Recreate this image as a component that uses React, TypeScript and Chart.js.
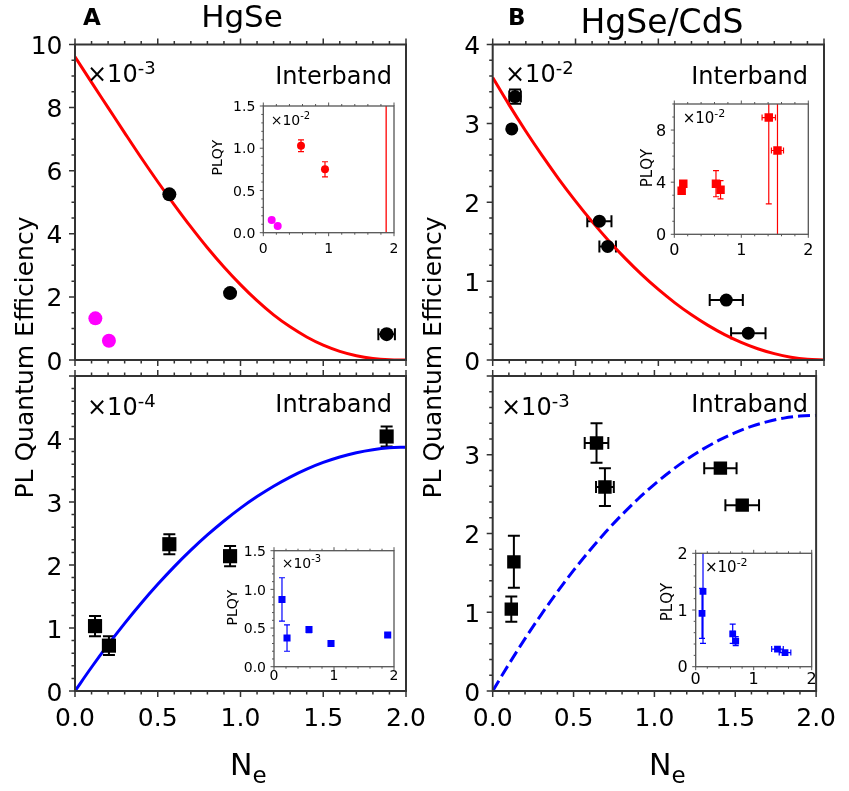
import React, { useEffect, useRef } from 'react';
import { Chart, registerables } from 'chart.js';

Chart.register(...registerables);

const W = 849;
const H = 791;
const FONT = "'DejaVu Sans', 'Liberation Sans', sans-serif";
Chart.defaults.font.family = FONT;
Chart.defaults.color = '#000';

// ---------- model curves ----------
const NE_GRID = [0, 0.1, 0.2, 0.3, 0.4, 0.5, 0.6, 0.7, 0.8, 0.9, 1.0, 1.1, 1.2, 1.3, 1.4, 1.5, 1.6, 1.7, 1.8, 1.9, 2.0];
const A_INTER_FIT = [9.61, 8.80, 8.00, 7.20, 6.41, 5.65, 4.92, 4.22, 3.56, 2.95, 2.39, 1.88, 1.43, 1.05, 0.73, 0.47, 0.275, 0.137, 0.051, 0.01, 0];
const A_INTRA_FIT = [0, 0.377, 0.735, 1.074, 1.393, 1.693, 1.974, 2.235, 2.477, 2.699, 2.903, 3.086, 3.251, 3.396, 3.522, 3.628, 3.715, 3.783, 3.831, 3.86, 3.87];
const B_INTER_FIT = [3.58, 3.231, 2.90, 2.587, 2.291, 2.014, 1.754, 1.513, 1.289, 1.083, 0.895, 0.725, 0.573, 0.439, 0.322, 0.224, 0.143, 0.081, 0.036, 0.009, 0];
const B_INTRA_FIT = [0, 0.341, 0.665, 0.971, 1.26, 1.531, 1.785, 2.021, 2.24, 2.441, 2.625, 2.791, 2.94, 3.071, 3.185, 3.281, 3.36, 3.421, 3.465, 3.491, 3.5];

// ---------- HgSe interband (x1e-3) ----------
const A_INTER_NE = [0.57, 0.937, 1.883];
const A_INTER_QE = [5.25, 2.12, 0.82];
const A_INTER_NE_ERR = [0, 0, 0.05];
const A_INTER_QE_ERR = [0, 0, 0];
const A_INTER_MAG_NE = [0.123, 0.205];
const A_INTER_MAG_QE = [1.32, 0.61];

// ---------- HgSe intraband (x1e-4) ----------
const A_INTRA_NE = [0.121, 0.205, 0.57, 0.937, 1.883];
const A_INTRA_QE = [1.03, 0.72, 2.33, 2.14, 4.04];
const A_INTRA_NE_ERR = [0, 0, 0, 0, 0];
const A_INTRA_QE_ERR = [0.16, 0.15, 0.16, 0.16, 0.16];

// ---------- HgSe/CdS interband (x1e-2) ----------
const B_INTER_NE = [0.135, 0.115, 0.644, 0.694, 1.41, 1.543];
const B_INTER_QE = [3.34, 2.93, 1.76, 1.44, 0.76, 0.34];
const B_INTER_NE_ERR = [0.035, 0, 0.073, 0.05, 0.10, 0.104];
const B_INTER_QE_ERR = [0.09, 0, 0, 0, 0, 0];

// ---------- HgSe/CdS intraband (x1e-3) ----------
const B_INTRA_NE = [0.115, 0.131, 0.642, 0.694, 1.408, 1.543];
const B_INTRA_QE = [1.04, 1.64, 3.15, 2.59, 2.83, 2.36];
const B_INTRA_NE_ERR = [0, 0, 0.073, 0.055, 0.10, 0.104];
const B_INTRA_QE_ERR = [0.16, 0.33, 0.25, 0.24, 0, 0];

// ---------- insets ----------
const IA1_RED_NE = [0.577, 0.944];
const IA1_RED_Y = [1.03, 0.75];
const IA1_RED_YERR = [0.07, 0.09];
const IA1_MAG_NE = [0.128, 0.22];
const IA1_MAG_Y = [0.15, 0.08];
const IA1_FULLBAR_NE = [1.88, 1.88];
const IA1_FULLBAR_Y = [0, 1.5];

const IB1_NE = [0.11, 0.134, 0.622, 0.69, 1.41, 1.54];
const IB1_Y = [3.34, 3.88, 3.88, 3.42, 8.96, 6.43];
const IB1_XERR = [0, 0, 0.03, 0.03, 0.10, 0.09];
const IB1_YERR = [0, 0, 1.0, 0.7, 6.63, 7.0];

const IA2_NE = [0.133, 0.217, 0.583, 0.95, 1.895];
const IA2_Y = [0.87, 0.37, 0.48, 0.30, 0.41];
const IA2_XERR = [0, 0, 0, 0, 0];
const IA2_YERR = [0.28, 0.17, 0.04, 0.02, 0.02];

const IB2_NE = [0.109, 0.126, 0.638, 0.69, 1.41, 1.54];
const IB2_Y = [0.94, 1.33, 0.58, 0.45, 0.31, 0.25];
const IB2_XERR = [0, 0, 0.03, 0.02, 0.10, 0.10];
const IB2_YERR = [0.44, 0.92, 0.17, 0.08, 0, 0];

// ---------- types ----------
type ErrSeries = { xs: number[]; ys: number[]; xe: number[]; ye: number[]; color: string; width: number; cap: number };
type TextItem =
  | { kind: 'text'; text: string; x: number; y: number; size: number; bold?: boolean; align?: CanvasTextAlign; rotate?: boolean }
  | { kind: 'sci'; base: string; exp: string; x: number; y: number; size: number; expSize: number; raise: number }
  | { kind: 'sub'; base: string; sub: string; x: number; y: number; size: number; subSize: number; drop: number };

type PanelSpec = {
  area: { l: number; r: number; t: number; b: number };
  xMax: number; yMax: number;
  xMajor: number; xMinor: number; yMajor: number; yMinor: number;
  xLabel: ((v: number) => string) | null;
  yLabel: (v: number) => string;
  fontSize: number;
  xPad: number; yPad: number; yLabelOffset: number;
  majorLen: number; minorLen: number;
  frameColor: string; frameWidth: number; tickWidth: number;
  datasets: any[];
  errors: ErrSeries[];
  texts: TextItem[];
};

const pts = (xs: number[], ys: number[]) => xs.map((x, i) => ({ x, y: ys[i] }));

const scatterSet = (xs: number[], ys: number[], color: string, style: string, r: number) => ({
  data: pts(xs, ys),
  showLine: false,
  pointStyle: style,
  pointRadius: r,
  pointBackgroundColor: color,
  pointBorderColor: color,
  pointBorderWidth: 0,
  backgroundColor: color,
  borderColor: color,
});

const lineSet = (xs: number[], ys: number[], color: string, width: number, dash: number[] = []) => ({
  data: pts(xs, ys),
  showLine: true,
  pointRadius: 0,
  borderColor: color,
  backgroundColor: color,
  borderWidth: width,
  borderDash: dash,
  cubicInterpolationMode: 'monotone',
  fill: false,
});

const fmt1 = (v: number) => v.toFixed(1);

function drawTexts(ctx: CanvasRenderingContext2D, texts: TextItem[]) {
  ctx.save();
  ctx.fillStyle = '#000';
  ctx.textBaseline = 'alphabetic';
  for (const t of texts) {
    if (t.kind === 'text') {
      ctx.font = `${t.bold ? 'bold ' : ''}${t.size}px ${FONT}`;
      ctx.textAlign = t.align || 'left';
      if (t.rotate) {
        ctx.save();
        ctx.translate(t.x, t.y);
        ctx.rotate(-Math.PI / 2);
        ctx.fillText(t.text, 0, 0);
        ctx.restore();
      } else {
        ctx.fillText(t.text, t.x, t.y);
      }
    } else if (t.kind === 'sci') {
      ctx.textAlign = 'left';
      ctx.font = `${t.size}px ${FONT}`;
      ctx.fillText(t.base, t.x, t.y);
      const w = ctx.measureText(t.base).width;
      ctx.font = `${t.expSize}px ${FONT}`;
      ctx.fillText(t.exp, t.x + w, t.y - t.raise);
    } else {
      ctx.textAlign = 'left';
      ctx.font = `${t.size}px ${FONT}`;
      ctx.fillText(t.base, t.x, t.y);
      const w = ctx.measureText(t.base).width;
      ctx.font = `${t.subSize}px ${FONT}`;
      ctx.fillText(t.sub, t.x + w, t.y + t.drop);
    }
  }
  ctx.restore();
}

function makeChart(canvas: HTMLCanvasElement, s: PanelSpec) {
  const yW = 80;
  const xH = 50;
  const showX = !!s.xLabel;

  const decor = {
    id: 'decor',
    beforeDatasetsDraw(chart: any) {
      const ctx: CanvasRenderingContext2D = chart.ctx;
      const ca = chart.chartArea;
      const xs = chart.scales.x;
      const ys = chart.scales.y;
      ctx.save();
      ctx.beginPath();
      ctx.rect(ca.left, ca.top, ca.right - ca.left, ca.bottom - ca.top);
      ctx.clip();
      for (const e of s.errors) {
        ctx.strokeStyle = e.color;
        ctx.lineWidth = e.width;
        ctx.beginPath();
        e.xs.forEach((xv, i) => {
          const yv = e.ys[i];
          const px = xs.getPixelForValue(xv);
          const py = ys.getPixelForValue(yv);
          const xe = e.xe[i] || 0;
          const ye = e.ye[i] || 0;
          if (ye > 0) {
            const y1 = ys.getPixelForValue(yv + ye);
            const y2 = ys.getPixelForValue(yv - ye);
            ctx.moveTo(px, y1); ctx.lineTo(px, y2);
            ctx.moveTo(px - e.cap, y1); ctx.lineTo(px + e.cap, y1);
            ctx.moveTo(px - e.cap, y2); ctx.lineTo(px + e.cap, y2);
          }
          if (xe > 0) {
            const x1 = xs.getPixelForValue(xv - xe);
            const x2 = xs.getPixelForValue(xv + xe);
            ctx.moveTo(x1, py); ctx.lineTo(x2, py);
            ctx.moveTo(x1, py - e.cap); ctx.lineTo(x1, py + e.cap);
            ctx.moveTo(x2, py - e.cap); ctx.lineTo(x2, py + e.cap);
          }
        });
        ctx.stroke();
      }
      ctx.restore();
    },
    afterDatasetsDraw(chart: any) {
      const ctx: CanvasRenderingContext2D = chart.ctx;
      const ca = chart.chartArea;
      const xs = chart.scales.x;
      const ys = chart.scales.y;
      ctx.save();
      ctx.strokeStyle = s.frameColor;
      ctx.lineWidth = s.tickWidth;
      ctx.beginPath();
      const nx = Math.round(s.xMax / s.xMinor);
      for (let i = 0; i <= nx; i++) {
        const v = i * s.xMinor;
        const major = Math.abs(v / s.xMajor - Math.round(v / s.xMajor)) < 1e-6;
        const len = major ? s.majorLen : s.minorLen;
        const px = xs.getPixelForValue(v);
        ctx.moveTo(px, ca.bottom); ctx.lineTo(px, ca.bottom + len);
        ctx.moveTo(px, ca.top); ctx.lineTo(px, ca.top - len);
      }
      const ny = Math.round(s.yMax / s.yMinor);
      for (let i = 0; i <= ny; i++) {
        const v = i * s.yMinor;
        const major = Math.abs(v / s.yMajor - Math.round(v / s.yMajor)) < 1e-6;
        const len = major ? s.majorLen : s.minorLen;
        const py = ys.getPixelForValue(v);
        ctx.moveTo(ca.left, py); ctx.lineTo(ca.left - len, py);
      }
      ctx.stroke();
      ctx.lineWidth = s.frameWidth;
      ctx.strokeRect(ca.left, ca.top, ca.right - ca.left, ca.bottom - ca.top);
      ctx.restore();
    },
    afterDraw(chart: any) {
      drawTexts(chart.ctx, s.texts);
    },
  };

  return new Chart(canvas, {
    type: 'scatter',
    data: { datasets: s.datasets },
    options: {
      responsive: false,
      animation: false,
      devicePixelRatio: 1,
      events: [],
      layout: {
        padding: {
          left: s.area.l - yW,
          right: W - s.area.r,
          top: s.area.t,
          bottom: showX ? H - s.area.b - xH : H - s.area.b,
        },
      },
      plugins: { legend: { display: false }, tooltip: { enabled: false }, title: { display: false } },
      scales: {
        x: {
          type: 'linear',
          min: 0,
          max: s.xMax,
          display: showX,
          grid: { display: false, drawTicks: false },
          border: { display: false },
          ticks: {
            stepSize: s.xMajor,
            autoSkip: false,
            maxRotation: 0,
            minRotation: 0,
            padding: s.xPad,
            color: '#000',
            font: { family: FONT, size: s.fontSize },
            callback: (v: any) => (s.xLabel ? s.xLabel(Number(v)) : ''),
          },
          afterFit: (sc: any) => { sc.height = showX ? xH : 0; },
        },
        y: {
          type: 'linear',
          min: 0,
          max: s.yMax,
          grid: { display: false, drawTicks: false },
          border: { display: false },
          ticks: {
            stepSize: s.yMajor,
            autoSkip: false,
            padding: s.yPad,
            labelOffset: s.yLabelOffset,
            color: '#000',
            font: { family: FONT, size: s.fontSize },
            callback: (v: any) => s.yLabel(Number(v)),
          },
          afterFit: (sc: any) => { sc.width = yW; },
        },
      },
    } as any,
    plugins: [decor],
  });
}

const MAIN = {
  xMax: 2, xMajor: 0.5, xMinor: 0.1,
  fontSize: 25, xPad: 13, yPad: 12.5, yLabelOffset: 3,
  majorLen: 6, minorLen: 3.5, frameColor: '#333', frameWidth: 2, tickWidth: 1.5,
};
const INSET = {
  xMax: 2, xMajor: 1, xMinor: 0.2,
  yPad: 8, yLabelOffset: 1.5,
  majorLen: 3.5, minorLen: 2, frameColor: '#555', frameWidth: 1.3, tickWidth: 1,
};

function buildSpecs(): PanelSpec[] {
  const aTop: PanelSpec = {
    ...MAIN,
    area: { l: 75, r: 406, t: 44.5, b: 360 },
    yMax: 10, yMajor: 2, yMinor: 0.5,
    xLabel: null,
    yLabel: (v) => String(v),
    datasets: [
      scatterSet(A_INTER_NE, A_INTER_QE, '#000', 'circle', 7),
      scatterSet(A_INTER_MAG_NE, A_INTER_MAG_QE, '#ff00ff', 'circle', 7),
      lineSet(NE_GRID, A_INTER_FIT, '#ff0000', 3),
    ],
    errors: [{ xs: A_INTER_NE, ys: A_INTER_QE, xe: A_INTER_NE_ERR, ye: A_INTER_QE_ERR, color: '#000', width: 2, cap: 6 }],
    texts: [
      { kind: 'text', text: 'A', x: 83, y: 25, size: 23, bold: true, align: 'left' },
      { kind: 'text', text: 'HgSe', x: 242, y: 27, size: 31, align: 'center' },
      { kind: 'text', text: 'PL Quantum Efficiency', x: 33, y: 357.5, size: 25, align: 'center', rotate: true },
      { kind: 'sci', base: '×10', exp: '-3', x: 87, y: 81.7, size: 24, expSize: 18, raise: 8 },
      { kind: 'text', text: 'Interband', x: 392, y: 84, size: 24, align: 'right' },
    ],
  };
  const aBot: PanelSpec = {
    ...MAIN,
    area: { l: 75, r: 406, t: 376, b: 691 },
    yMax: 5, yMajor: 1, yMinor: 0.2,
    xLabel: fmt1,
    yLabel: (v) => (v <= 4 ? String(v) : ''),
    datasets: [
      scatterSet(A_INTRA_NE, A_INTRA_QE, '#000', 'rect', 10),
      lineSet(NE_GRID, A_INTRA_FIT, '#0000ff', 3),
    ],
    errors: [{ xs: A_INTRA_NE, ys: A_INTRA_QE, xe: A_INTRA_NE_ERR, ye: A_INTRA_QE_ERR, color: '#000', width: 2, cap: 6 }],
    texts: [
      { kind: 'sci', base: '×10', exp: '-4', x: 87, y: 415, size: 24, expSize: 18, raise: 8 },
      { kind: 'text', text: 'Intraband', x: 392, y: 411.7, size: 24, align: 'right' },
      { kind: 'sub', base: 'N', sub: 'e', x: 230, y: 775, size: 30, subSize: 23, drop: 8 },
    ],
  };
  const bTop: PanelSpec = {
    ...MAIN,
    area: { l: 492.7, r: 824, t: 44.5, b: 360 },
    yMax: 4, yMajor: 1, yMinor: 0.2,
    xLabel: null,
    yLabel: (v) => String(v),
    datasets: [
      scatterSet(B_INTER_NE, B_INTER_QE, '#000', 'circle', 6.5),
      lineSet(NE_GRID, B_INTER_FIT, '#ff0000', 3),
    ],
    errors: [{ xs: B_INTER_NE, ys: B_INTER_QE, xe: B_INTER_NE_ERR, ye: B_INTER_QE_ERR, color: '#000', width: 2, cap: 6 }],
    texts: [
      { kind: 'text', text: 'B', x: 508, y: 25, size: 23, bold: true, align: 'left' },
      { kind: 'text', text: 'HgSe/CdS', x: 662, y: 33, size: 33, align: 'center' },
      { kind: 'text', text: 'PL Quantum Efficiency', x: 441, y: 357.5, size: 25, align: 'center', rotate: true },
      { kind: 'sci', base: '×10', exp: '-2', x: 505, y: 81.7, size: 24, expSize: 18, raise: 8 },
      { kind: 'text', text: 'Interband', x: 808, y: 84, size: 24, align: 'right' },
    ],
  };
  const bBot: PanelSpec = {
    ...MAIN,
    area: { l: 492.7, r: 824, t: 376, b: 691 },
    yMax: 4, yMajor: 1, yMinor: 0.2,
    xLabel: fmt1,
    yLabel: (v) => (v <= 3 ? String(v) : ''),
    datasets: [
      scatterSet(B_INTRA_NE, B_INTRA_QE, '#000', 'rect', 9.5),
      lineSet(NE_GRID, B_INTRA_FIT, '#0000ff', 3, [12, 5]),
    ],
    errors: [{ xs: B_INTRA_NE, ys: B_INTRA_QE, xe: B_INTRA_NE_ERR, ye: B_INTRA_QE_ERR, color: '#000', width: 2, cap: 6 }],
    texts: [
      { kind: 'sci', base: '×10', exp: '-3', x: 501, y: 415, size: 24, expSize: 18, raise: 8 },
      { kind: 'text', text: 'Intraband', x: 808, y: 411.7, size: 24, align: 'right' },
      { kind: 'sub', base: 'N', sub: 'e', x: 649, y: 775, size: 30, subSize: 23, drop: 8 },
    ],
  };

  const ia1: PanelSpec = {
    ...INSET,
    area: { l: 263.3, r: 394, t: 106, b: 232.7 },
    fontSize: 14, xPad: 8,
    yMax: 1.5, yMajor: 0.5, yMinor: 0.1,
    xLabel: (v) => String(Math.round(v)),
    yLabel: (v) => fmt1(v),
    datasets: [
      scatterSet(IA1_RED_NE, IA1_RED_Y, '#ff0000', 'circle', 4),
      scatterSet(IA1_MAG_NE, IA1_MAG_Y, '#ff00ff', 'circle', 4),
      lineSet(IA1_FULLBAR_NE, IA1_FULLBAR_Y, '#ff0000', 1.3),
    ],
    errors: [{ xs: IA1_RED_NE, ys: IA1_RED_Y, xe: [0, 0], ye: IA1_RED_YERR, color: '#ff0000', width: 1.2, cap: 3 }],
    texts: [
      { kind: 'sci', base: '×10', exp: '-2', x: 270.7, y: 125, size: 14, expSize: 10, raise: 6 },
      { kind: 'text', text: 'PLQY', x: 222, y: 157.5, size: 14, align: 'center', rotate: true },
    ],
  };
  const ib1: PanelSpec = {
    ...INSET,
    area: { l: 674.3, r: 808.3, t: 104, b: 234.3 },
    fontSize: 16, xPad: 7,
    yMax: 10, yMajor: 4, yMinor: 1,
    xLabel: (v) => String(Math.round(v)),
    yLabel: (v) => (v <= 8 ? String(v) : ''),
    datasets: [scatterSet(IB1_NE, IB1_Y, '#ff0000', 'rect', 6)],
    errors: [{ xs: IB1_NE, ys: IB1_Y, xe: IB1_XERR, ye: IB1_YERR, color: '#ff0000', width: 1.2, cap: 3 }],
    texts: [
      { kind: 'sci', base: '×10', exp: '-2', x: 682.7, y: 123.3, size: 15, expSize: 11, raise: 6 },
      { kind: 'text', text: 'PLQY', x: 651.7, y: 168, size: 15, align: 'center', rotate: true },
    ],
  };
  const ia2: PanelSpec = {
    ...INSET,
    area: { l: 274, r: 394, t: 550.7, b: 666.7 },
    fontSize: 14, xPad: 1,
    yMax: 1.5, yMajor: 0.5, yMinor: 0.1,
    xLabel: (v) => String(Math.round(v)),
    yLabel: (v) => fmt1(v),
    datasets: [scatterSet(IA2_NE, IA2_Y, '#0000ff', 'rect', 5)],
    errors: [{ xs: IA2_NE, ys: IA2_Y, xe: IA2_XERR, ye: IA2_YERR, color: '#0000ff', width: 1.2, cap: 3 }],
    texts: [
      { kind: 'sci', base: '×10', exp: '-3', x: 281.7, y: 568.3, size: 14, expSize: 10, raise: 6 },
      { kind: 'text', text: 'PLQY', x: 236.7, y: 607.5, size: 14, align: 'center', rotate: true },
    ],
  };
  const ib2: PanelSpec = {
    ...INSET,
    area: { l: 695.7, r: 811.7, t: 553.3, b: 666.7 },
    fontSize: 16, xPad: 4,
    yMax: 2, yMajor: 1, yMinor: 0.2,
    xLabel: (v) => String(Math.round(v)),
    yLabel: (v) => String(v),
    datasets: [scatterSet(IB2_NE, IB2_Y, '#0000ff', 'rect', 4.8)],
    errors: [{ xs: IB2_NE, ys: IB2_Y, xe: IB2_XERR, ye: IB2_YERR, color: '#0000ff', width: 1.2, cap: 3 }],
    texts: [
      { kind: 'sci', base: '×10', exp: '-2', x: 705, y: 571.7, size: 15, expSize: 11, raise: 6 },
      { kind: 'text', text: 'PLQY', x: 671.7, y: 602, size: 15, align: 'center', rotate: true },
    ],
  };
  return [aTop, aBot, bTop, bBot, ia1, ib1, ia2, ib2];
}

export default function App() {
  const refs = useRef<(HTMLCanvasElement | null)[]>([]);
  useEffect(() => {
    const specs = buildSpecs();
    const charts = specs.map((s, i) => makeChart(refs.current[i] as HTMLCanvasElement, s));
    return () => {
      charts.forEach((c) => c.destroy());
    };
  }, []);
  return (
    <div style={{ position: 'absolute', left: 0, top: 0, width: W, height: H, background: '#fff', overflow: 'hidden' }}>
      {Array.from({ length: 8 }).map((_, i) => (
        <canvas
          key={i}
          ref={(el) => {
            refs.current[i] = el;
          }}
          width={W}
          height={H}
          style={{ position: 'absolute', left: 0, top: 0, width: W, height: H }}
        />
      ))}
    </div>
  );
}
